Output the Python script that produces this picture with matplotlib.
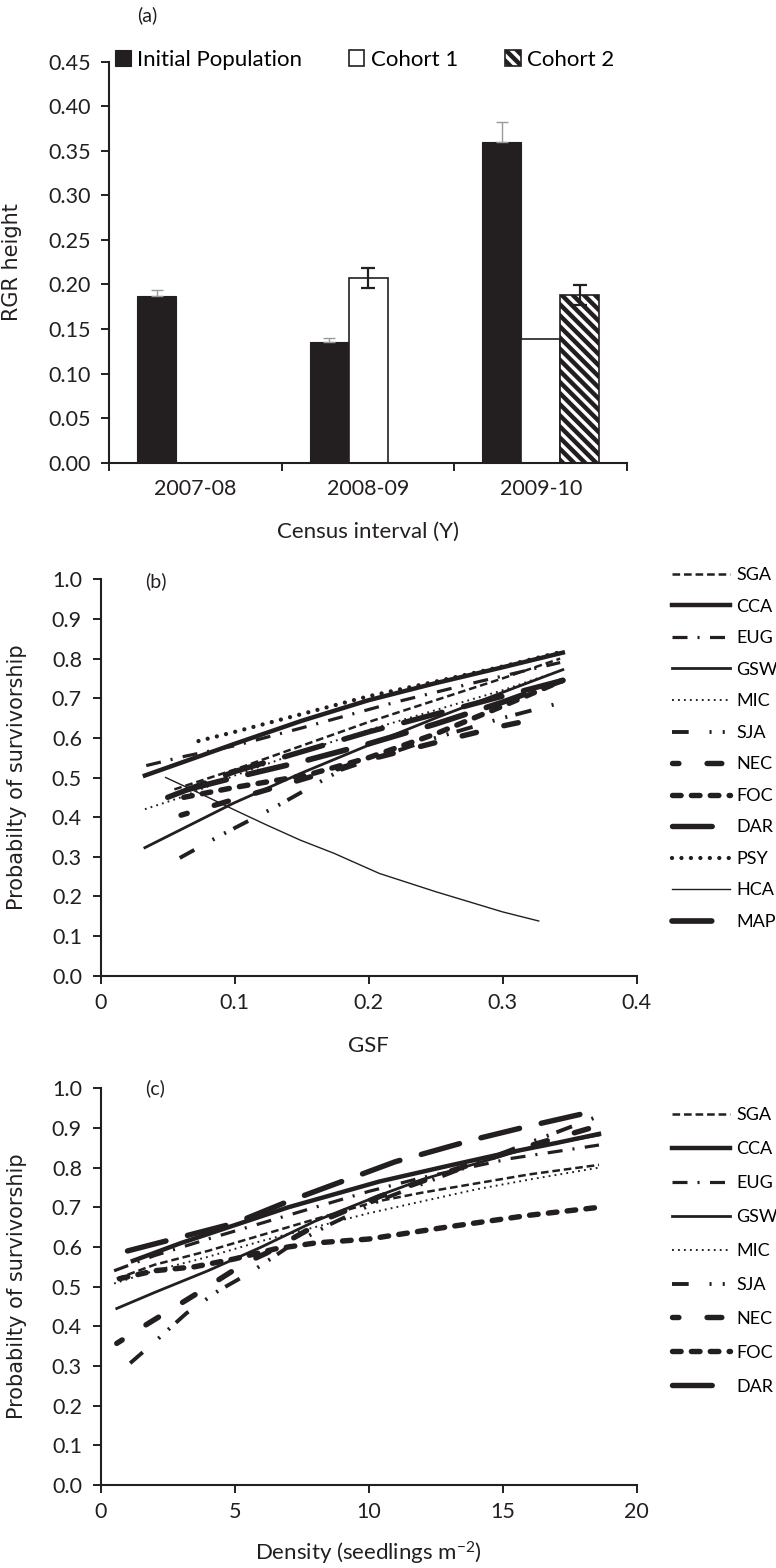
import numpy as np
import matplotlib
matplotlib.use('Agg')
import matplotlib.pyplot as plt

plt.rcParams['font.family'] = ['Lato', 'DejaVu Sans']
plt.rcParams['mathtext.default'] = 'regular'
plt.rcParams['lines.scale_dashes'] = False
plt.rcParams['hatch.linewidth'] = 3.2

INK = '#231f20'
W, H = 776, 1568

# ---- panel (a): relative growth rate by census interval ----
intervals = ['2007-08', '2008-09', '2009-10']
rgr_initial = [0.187, 0.135, 0.360]
rgr_initial_se = [0.007, 0.005, 0.022]
rgr_cohort1 = [np.nan, 0.207, 0.139]
rgr_cohort1_se = [np.nan, 0.011, np.nan]
rgr_cohort2 = [np.nan, np.nan, 0.188]
rgr_cohort2_se = [np.nan, np.nan, 0.011]

# ---- panel (b): survivorship vs GSF ----
gsf_SGA = [0.055, 0.10, 0.15, 0.20, 0.25, 0.30, 0.343]
surv_gsf_SGA = [0.47, 0.52, 0.58, 0.64, 0.695, 0.75, 0.80]
gsf_CCA = [0.033, 0.10, 0.15, 0.20, 0.25, 0.30, 0.345]
surv_gsf_CCA = [0.505, 0.585, 0.643, 0.695, 0.738, 0.778, 0.815]
gsf_EUG = [0.034, 0.062, 0.10, 0.15, 0.22, 0.28, 0.343]
surv_gsf_EUG = [0.53, 0.553, 0.58, 0.625, 0.69, 0.74, 0.79]
gsf_GSW = [0.033, 0.099, 0.149, 0.206, 0.25, 0.308, 0.345]
surv_gsf_GSW = [0.323, 0.435, 0.51, 0.59, 0.65, 0.725, 0.772]
gsf_MIC = [0.033, 0.06, 0.10, 0.15, 0.20, 0.25, 0.30, 0.345]
surv_gsf_MIC = [0.42, 0.45, 0.505, 0.565, 0.62, 0.67, 0.72, 0.772]
gsf_SJA = [0.059, 0.09, 0.13, 0.18, 0.25, 0.30, 0.345]
surv_gsf_SJA = [0.297, 0.355, 0.425, 0.52, 0.60, 0.65, 0.69]
gsf_NEC = [0.06, 0.10, 0.149, 0.20, 0.258, 0.30, 0.327]
surv_gsf_NEC = [0.405, 0.445, 0.494, 0.545, 0.595, 0.63, 0.649]
gsf_FOC = [0.062, 0.10, 0.154, 0.20, 0.25, 0.30, 0.345]
surv_gsf_FOC = [0.45, 0.475, 0.506, 0.55, 0.61, 0.68, 0.745]
gsf_DAR = [0.05, 0.10, 0.15, 0.20, 0.25, 0.30, 0.345]
surv_gsf_DAR = [0.45, 0.515, 0.565, 0.615, 0.66, 0.705, 0.745]
gsf_PSY = [0.073, 0.10, 0.15, 0.20, 0.25, 0.30, 0.345]
surv_gsf_PSY = [0.592, 0.615, 0.66, 0.705, 0.742, 0.78, 0.818]
gsf_HCA = [0.0485, 0.074, 0.10, 0.124, 0.149, 0.174, 0.208, 0.25, 0.30, 0.327]
surv_gsf_HCA = [0.50, 0.46, 0.418, 0.38, 0.342, 0.309, 0.258, 0.212, 0.161, 0.138]
gsf_MAP = [0.065, 0.10, 0.15, 0.20, 0.25, 0.30, 0.345]
surv_gsf_MAP = [0.47, 0.50, 0.54, 0.585, 0.635, 0.69, 0.745]

# ---- panel (c): survivorship vs seedling density ----
dens_SGA = [0.6, 2, 4, 6, 8, 10.25, 12, 14, 16, 18.6]
surv_dens_SGA = [0.52, 0.555, 0.59, 0.63, 0.67, 0.714, 0.737, 0.76, 0.783, 0.807]
dens_CCA = [1.2, 3, 5, 7, 10.4, 13, 15, 17, 18.6]
surv_dens_CCA = [0.565, 0.61, 0.655, 0.70, 0.765, 0.805, 0.835, 0.862, 0.885]
dens_EUG = [0.5, 2, 4, 6, 8, 10, 12, 15.3, 18.6]
surv_dens_EUG = [0.54, 0.578, 0.62, 0.66, 0.70, 0.74, 0.775, 0.823, 0.857]
dens_GSW = [0.6, 2, 4, 6, 8, 10.4, 12, 14, 16, 18.6]
surv_dens_GSW = [0.445, 0.485, 0.54, 0.60, 0.665, 0.73, 0.77, 0.81, 0.85, 0.882]
dens_MIC = [0.5, 2, 4, 6, 8, 10, 12, 14, 16, 18.6]
surv_dens_MIC = [0.508, 0.54, 0.575, 0.615, 0.65, 0.685, 0.715, 0.745, 0.77, 0.80]
dens_SJA = [1.1, 2.0, 3.2, 4.4, 5.55, 7, 8.5, 10.5, 13, 15.5, 18.6]
surv_dens_SJA = [0.307, 0.36, 0.433, 0.49, 0.534, 0.60, 0.655, 0.72, 0.785, 0.85, 0.93]
dens_NEC = [0.6, 1.6, 3.6, 5.4, 6.2, 8.6, 10.4, 13, 15.5, 18.3]
surv_dens_NEC = [0.357, 0.40, 0.483, 0.56, 0.585, 0.676, 0.727, 0.79, 0.845, 0.90]
dens_FOC = [0.7, 2, 3.5, 5, 6.5, 8, 10, 13, 16, 18.6]
surv_dens_FOC = [0.52, 0.54, 0.55, 0.57, 0.595, 0.61, 0.62, 0.651, 0.68, 0.70]
dens_DAR = [1.0, 3, 5, 7, 9, 11, 14, 16, 18.6]
surv_dens_DAR = [0.59, 0.625, 0.66, 0.715, 0.765, 0.815, 0.872, 0.905, 0.945]

species_b = ['SGA', 'CCA', 'EUG', 'GSW', 'MIC', 'SJA', 'NEC', 'FOC', 'DAR', 'PSY', 'HCA', 'MAP']
x_b = [gsf_SGA, gsf_CCA, gsf_EUG, gsf_GSW, gsf_MIC, gsf_SJA, gsf_NEC, gsf_FOC, gsf_DAR, gsf_PSY, gsf_HCA, gsf_MAP]
y_b = [surv_gsf_SGA, surv_gsf_CCA, surv_gsf_EUG, surv_gsf_GSW, surv_gsf_MIC, surv_gsf_SJA,
       surv_gsf_NEC, surv_gsf_FOC, surv_gsf_DAR, surv_gsf_PSY, surv_gsf_HCA, surv_gsf_MAP]
species_c = ['SGA', 'CCA', 'EUG', 'GSW', 'MIC', 'SJA', 'NEC', 'FOC', 'DAR']
x_c = [dens_SGA, dens_CCA, dens_EUG, dens_GSW, dens_MIC, dens_SJA, dens_NEC, dens_FOC, dens_DAR]
y_c = [surv_dens_SGA, surv_dens_CCA, surv_dens_EUG, surv_dens_GSW, surv_dens_MIC, surv_dens_SJA,
       surv_dens_NEC, surv_dens_FOC, surv_dens_DAR]

# line look for every species (dashes in points)
line_style = {
    'SGA': dict(lw=1.8, ls=(0, (5.5, 2.8))),
    'CCA': dict(lw=3.2, ls='-'),
    'EUG': dict(lw=2.3, ls=(0, (10.8, 7.2, 1.5, 7.5))),
    'GSW': dict(lw=2.0, ls='-'),
    'MIC': dict(lw=1.4, ls=(0, (1.3, 3.0))),
    'SJA': dict(lw=2.8, ls=(0, (12, 15, 1.5, 8, 1.5, 6))),
    'NEC': dict(lw=3.9, ls=(6, (10.6, 20.3)), dash_capstyle='round'),
    'FOC': dict(lw=3.9, ls=(0, (6.2, 7.4)), dash_capstyle='round'),
    'DAR': dict(lw=3.9, ls=(0, (28.6, 16)), dash_capstyle='round'),
    'PSY': dict(lw=3.1, ls=(0, (0.01, 6.8)), dash_capstyle='round'),
    'HCA': dict(lw=1.0, ls='-'),
    'MAP': dict(lw=4.1, ls=(0, (28.6, 16)), dash_capstyle='round'),
}

fig = plt.figure(figsize=(W / 100, H / 100), dpi=100)


def box(left, top, right, bottom):
    return [left / W, 1 - bottom / H, (right - left) / W, (bottom - top) / H]


def style_axes(ax):
    for side in ['top', 'right']:
        ax.spines[side].set_visible(False)
    for side in ['left', 'bottom']:
        ax.spines[side].set_linewidth(1.5)
        ax.spines[side].set_color(INK)
    ax.tick_params(axis='both', which='both', direction='out', length=5.5, width=1.4,
                   color=INK, labelsize=15.5, labelcolor=INK)


# panel (a)
ax_a = fig.add_axes(box(109.3, 61.7, 627, 462.7))
style_axes(ax_a)
pos = np.arange(len(intervals))
bw = 0.226
ini = np.array(rgr_initial)
c1 = np.array(rgr_cohort1)
c2 = np.array(rgr_cohort2)
m1 = ~np.isnan(c1)
m2 = ~np.isnan(c2)
h_ini = ax_a.bar(pos - bw, ini, bw, color=INK, edgecolor=INK, linewidth=0.8, label='Initial Population')
h_c1 = ax_a.bar(pos[m1], c1[m1], bw, color='white', edgecolor=INK, linewidth=1.2, label='Cohort 1')
h_c2 = ax_a.bar(pos[m2] + bw, c2[m2], bw, color='white', edgecolor=INK, linewidth=1.2,
                hatch='\\\\\\', label='Cohort 2')
ax_a.errorbar(pos - bw, ini, yerr=[np.zeros(3), rgr_initial_se], fmt='none',
              ecolor='#9a9a9a', elinewidth=1.0, capsize=4.5, capthick=1.0)
se1 = np.array(rgr_cohort1_se)
k1 = ~np.isnan(se1)
ax_a.errorbar(pos[k1], c1[k1], yerr=se1[k1], fmt='none', ecolor=INK, elinewidth=1.6,
              capsize=5, capthick=1.6)
se2 = np.array(rgr_cohort2_se)
k2 = ~np.isnan(se2)
ax_a.errorbar(pos[k2] + bw, c2[k2], yerr=se2[k2], fmt='none', ecolor=INK, elinewidth=1.6,
              capsize=5, capthick=1.6)
ax_a.set_xlim(-0.5, 2.5)
ax_a.set_ylim(0, 0.45)
ax_a.set_yticks(np.arange(0, 0.451, 0.05))
ax_a.set_yticklabels(['%.2f' % v for v in np.arange(0, 0.451, 0.05)])
ax_a.set_xticks(pos)
ax_a.set_xticklabels(intervals)
ax_a.set_xticks(np.arange(-0.5, 2.6, 1.0), minor=True)
ax_a.tick_params(axis='x', which='major', length=0, pad=12)
ax_a.tick_params(axis='y', pad=8)
ax_a.set_ylabel('RGR height', family='DejaVu Sans', fontsize=15, color=INK)
ax_a.yaxis.set_label_coords(-87.3 / 517.7, 0.5)
ax_a.set_xlabel('Census interval (Y)', fontsize=16, color=INK)
ax_a.xaxis.label.set_verticalalignment('center')
ax_a.xaxis.set_label_coords(0.5, -69.3 / 401)
ax_a.legend(handles=[h_ini, h_c1, h_c2], ncol=3, loc='center left',
            bbox_to_anchor=(115 / W, 1 - 60 / H), bbox_transform=fig.transFigure,
            frameon=False, fontsize=16, handlelength=0.7, handleheight=0.7,
            handletextpad=0.3, columnspacing=2.1, borderpad=0, borderaxespad=0)
fig.text(137 / W, 1 - 15 / H, '(a)', fontsize=14, va='center', ha='left', color=INK)


def draw_lines(ax, names, xs_list, ys_list):
    for name, xs, ys in zip(names, xs_list, ys_list):
        ax.plot(xs, ys, color=INK, label=name, **line_style[name])


# panel (b)
ax_b = fig.add_axes(box(100.7, 579.3, 636.5, 975.7))
style_axes(ax_b)
draw_lines(ax_b, species_b, x_b, y_b)
ax_b.set_xlim(0, 0.4)
ax_b.set_ylim(0, 1.0)
ax_b.set_xticks([0, 0.1, 0.2, 0.3, 0.4])
ax_b.set_xticklabels(['0', '0.1', '0.2', '0.3', '0.4'])
ax_b.set_yticks(np.arange(0, 1.01, 0.1))
ax_b.set_yticklabels(['%.1f' % v for v in np.arange(0, 1.01, 0.1)])
ax_b.tick_params(axis='y', pad=8)
ax_b.tick_params(axis='x', pad=7)
ax_b.set_ylabel('Probabilty of survivorship', family='DejaVu Sans', fontsize=15, color=INK)
ax_b.yaxis.set_label_coords(-73.7 / 535.8, 0.5)
ax_b.set_xlabel('GSF', fontsize=16, color=INK)
ax_b.xaxis.label.set_verticalalignment('center')
ax_b.xaxis.set_label_coords(0.5, -70.3 / 396.4)
ax_b.legend(loc='upper left', bbox_to_anchor=(671.7 / W, 1 - 567.2 / H),
            bbox_transform=fig.transFigure, frameon=False, fontsize=13,
            handlelength=3.21, handletextpad=0.37, labelspacing=0.86,
            borderpad=0, borderaxespad=0)
fig.text(145 / W, 1 - 581.7 / H, '(b)', fontsize=14, va='center', ha='left', color=INK)

# panel (c)
ax_c = fig.add_axes(box(100.7, 1088.3, 636.5, 1485))
style_axes(ax_c)
draw_lines(ax_c, species_c, x_c, y_c)
ax_c.set_xlim(0, 20)
ax_c.set_ylim(0, 1.0)
ax_c.set_xticks([0, 5, 10, 15, 20])
ax_c.set_yticks(np.arange(0, 1.01, 0.1))
ax_c.set_yticklabels(['%.1f' % v for v in np.arange(0, 1.01, 0.1)])
ax_c.tick_params(axis='y', pad=8)
ax_c.tick_params(axis='x', pad=7)
ax_c.set_ylabel('Probabilty of survivorship', family='DejaVu Sans', fontsize=15, color=INK)
ax_c.yaxis.set_label_coords(-73.7 / 535.8, 0.5)
ax_c.set_xlabel('Density (seedlings m$^{-2}$)', fontsize=16, color=INK)
ax_c.xaxis.label.set_verticalalignment('center')
ax_c.xaxis.set_label_coords(0.5, -68 / 396.7)
ax_c.legend(loc='upper left', bbox_to_anchor=(671.7 / W, 1 - 1107.5 / H),
            bbox_transform=fig.transFigure, frameon=False, fontsize=13,
            handlelength=3.21, handletextpad=0.37, labelspacing=0.99,
            borderpad=0, borderaxespad=0)
fig.text(145 / W, 1 - 1088.3 / H, '(c)', fontsize=14, va='center', ha='left', color=INK)

fig.savefig('out.png', dpi=100)
